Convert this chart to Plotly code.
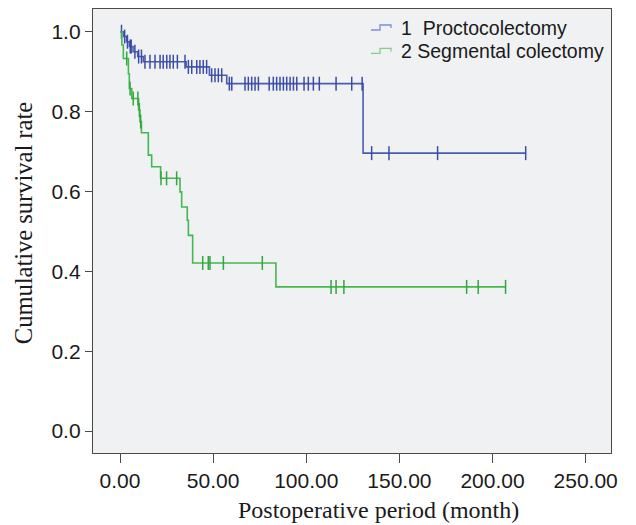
import plotly.graph_objects as go

# ---- data (Kaplan-Meier curves) ----
# Group 1: Proctocolectomy
procto_step_t = [0, 2, 3.5, 5, 7, 9.5, 12.5, 35.5, 48, 57.3, 130.5]
procto_step_s = [1.0, 0.988, 0.975, 0.963, 0.950, 0.938, 0.925, 0.912, 0.891, 0.870, 0.696]
procto_end_t = 217.8
procto_cens_t = [0.8, 2.5, 4, 5.5, 6, 8, 10, 11.5,
                 13.4, 16.1, 18.8, 21.5, 23.2, 25.1, 26.8, 28.6, 30.8, 34.9,
                 36.7, 38.5, 41.2, 42.9, 44.7, 46.5,
                 49.2, 51, 52.8, 54.6,
                 58.7, 60, 67.1, 68.9, 70.7, 72.5, 74.3, 80.1, 82.3, 84.1, 85.9, 87.7,
                 89.5, 91.3, 93.1, 94.9, 98.8, 101.1, 103.8, 107, 116, 124.4, 130.0,
                 135.1, 144.4, 170.5, 217.8]

# Group 2: Segmental colectomy
segm_step_t = [0, 1.0, 1.8, 4.5, 5.0, 6.3, 10.0, 10.7, 11.5, 15.2, 17.0, 21.8, 32.2, 33.1, 36.1, 36.7, 39.0, 83.7]
segm_step_s = [1.0, 0.967, 0.933, 0.895, 0.858, 0.833, 0.804, 0.775, 0.747, 0.691, 0.662, 0.633, 0.599, 0.561, 0.528, 0.490, 0.421, 0.361]
segm_end_t = 207.0
segm_cens_t = [3.6, 5.4, 7.1, 9.6, 10.4, 11.1, 22, 25, 30.4,
               44.4, 47.4, 48.3, 55.5, 76.4,
               113.3, 116, 120.2, 186.1, 192.3, 207.0]

series_names = ["1  Proctocolectomy", "2 Segmental colectomy"]
x_ticks = [0, 50, 100, 150, 200, 250]
y_ticks = [0.0, 0.2, 0.4, 0.6, 0.8, 1.0]

BLUE = "#4a5db5"
BLUE_C = "#3a4ca6"
GREEN = "#44b84f"
GREEN_C = "#33a63f"


def surv_at(t, step_t, step_s):
    v = step_s[0]
    for tt, ss in zip(step_t, step_s):
        if tt <= t:
            v = ss
    return v


fig = go.Figure()
for step_t, step_s, end_t, cens_t, col, ccol in [
    (procto_step_t, procto_step_s, procto_end_t, procto_cens_t, BLUE, BLUE_C),
    (segm_step_t, segm_step_s, segm_end_t, segm_cens_t, GREEN, GREEN_C),
]:
    xs = list(step_t) + [end_t]
    ys = list(step_s) + [step_s[-1]]
    fig.add_trace(go.Scatter(x=xs, y=ys, mode="lines", line=dict(color=col, width=1.6, shape="hv"),
                             showlegend=False, hoverinfo="skip"))
    fig.add_trace(go.Scatter(x=cens_t, y=[surv_at(t, step_t, step_s) for t in cens_t], mode="markers",
                             marker=dict(symbol="line-ns-open", size=10, color=ccol,
                                         line=dict(color=ccol, width=1.5)),
                             showlegend=False, hoverinfo="skip"))

# plot area in pixels
L, R, T, B = 93, 611, 9, 452.7
W, H = 636, 525


def px(x):
    return (x - L) / (R - L)


def py(y):
    return (B - y) / (B - T)


# custom legend (step-shaped symbols)
shapes = []
annotations = []
for i, (name, col) in enumerate(zip(series_names, ["#7d8ed8", "#7fd08a"])):
    y0 = 30 + i * 23.4
    path = "M {} {} L {} {} L {} {} L {} {} L {} {}".format(
        px(371), py(y0), px(380), py(y0), px(380), py(y0 - 5), px(391), py(y0 - 5), px(391), py(y0 - 2))
    shapes.append(dict(type="path", path=path, xref="paper", yref="paper",
                       line=dict(color=col, width=1.3)))
    annotations.append(dict(text=name, x=px(399), y=py(y0 - 2), xref="paper", yref="paper",
                            xanchor="left", yanchor="middle", showarrow=False,
                            font=dict(family="Liberation Sans, Arial", size=19.5, color="#1a1a1a")))

annotations.append(dict(text="Postoperative period (month)", x=px(378), y=py(510), xref="paper", yref="paper",
                        xanchor="center", yanchor="middle", showarrow=False,
                        font=dict(family="Liberation Serif, Times New Roman", size=24, color="#1a1a1a")))
annotations.append(dict(text="Cumulative survival rate", x=px(23), y=py(223), xref="paper", yref="paper",
                        xanchor="center", yanchor="middle", showarrow=False, textangle=-90,
                        font=dict(family="Liberation Serif, Times New Roman", size=24.5, color="#1a1a1a")))

fig.update_layout(
    width=W, height=H,
    margin=dict(l=L, r=W - R, t=T, b=H - B, autoexpand=False),
    paper_bgcolor="white", plot_bgcolor="#f0f1f2",
    shapes=shapes, annotations=annotations,
    showlegend=False,
)
fig.update_xaxes(range=[-14.5, 263.6], tickvals=x_ticks, ticktext=["{:.2f}".format(v) for v in x_ticks],
                 showgrid=False, zeroline=False, showline=True, mirror=True, linecolor="#4a4a4a", linewidth=1.3,
                 ticks="outside", ticklen=9, tickcolor="#4a4a4a", tickwidth=1.3,
                 tickfont=dict(family="Liberation Sans, Arial", size=21, color="#1a1a1a"))
fig.update_yaxes(range=[-0.055, 1.057], tickvals=y_ticks, ticktext=["{:.1f}".format(v) for v in y_ticks],
                 showgrid=False, zeroline=False, showline=True, mirror=True, linecolor="#4a4a4a", linewidth=1.3,
                 ticks="outside", ticklen=7, tickcolor="#4a4a4a", tickwidth=1.3,
                 tickfont=dict(family="Liberation Sans, Arial", size=21, color="#1a1a1a"))

fig.write_html("out.html", config={"displayModeBar": False},
               post_script="document.body.style.margin='0';document.body.style.overflow='hidden';")
